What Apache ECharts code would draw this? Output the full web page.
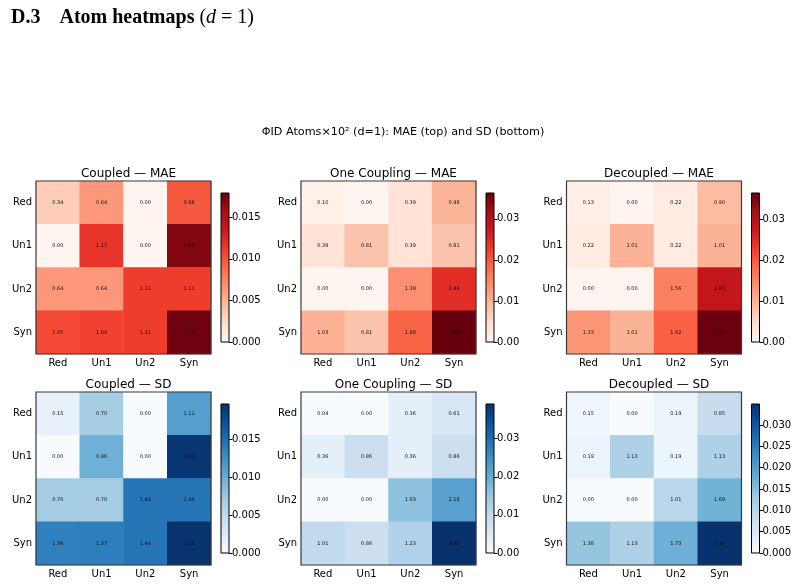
<!DOCTYPE html>
<html>
<head>
<meta charset="utf-8">
<title>Atom heatmaps</title>
<script src="https://cdn.jsdelivr.net/npm/echarts@6/dist/echarts.min.js"></script>
<style>
  html, body { margin: 0; padding: 0; background: #fff; }
  #main { width: 798px; height: 587px; }
</style>
</head>
<body>
<div id="main"></div>
<script>
// categories (rows top->bottom, cols left->right)
var atoms = ['Red', 'Un1', 'Un2', 'Syn'];

// cell values, x10^2, one row per atom
var coupledMAE = [
  [0.34, 0.64, 0.00, 0.98],
  [0.00, 1.17, 0.00, 1.69],
  [0.64, 0.64, 1.11, 1.11],
  [1.05, 1.09, 1.11, 1.76]
];
var oneCouplingMAE = [
  [0.10, 0.00, 0.39, 0.98],
  [0.39, 0.81, 0.39, 0.81],
  [0.00, 0.00, 1.39, 2.44],
  [1.03, 0.81, 1.88, 3.64]
];
var decoupledMAE = [
  [0.13, 0.00, 0.22, 0.90],
  [0.22, 1.01, 0.22, 1.01],
  [0.00, 0.00, 1.56, 2.83],
  [1.33, 1.01, 1.92, 3.61]
];
var coupledSD = [
  [0.15, 0.70, 0.00, 1.11],
  [0.00, 0.96, 0.00, 1.92],
  [0.70, 0.70, 1.44, 1.44],
  [1.36, 1.37, 1.44, 1.94]
];
var oneCouplingSD = [
  [0.04, 0.00, 0.36, 0.61],
  [0.36, 0.86, 0.36, 0.86],
  [0.00, 0.00, 1.63, 2.18],
  [1.01, 0.86, 1.23, 3.89]
];
var decoupledSD = [
  [0.15, 0.00, 0.19, 0.85],
  [0.19, 1.13, 0.19, 1.13],
  [0.00, 0.00, 1.01, 1.69],
  [1.38, 1.13, 1.73, 3.46]
];

var panelTitles = ['Coupled — MAE', 'One Coupling — MAE', 'Decoupled — MAE',
                   'Coupled — SD', 'One Coupling — SD', 'Decoupled — SD'];
var panelData = [coupledMAE, oneCouplingMAE, decoupledMAE, coupledSD, oneCouplingSD, decoupledSD];

// colour scale top of each colorbar (raw units) and its tick labels
var colorMax = [0.0179, 0.0363, 0.0365, 0.0196, 0.0391, 0.0349];
var cbTicks = [
  [0, 0.005, 0.010, 0.015],
  [0, 0.01, 0.02, 0.03],
  [0, 0.01, 0.02, 0.03],
  [0, 0.005, 0.010, 0.015],
  [0, 0.01, 0.02, 0.03],
  [0, 0.005, 0.010, 0.015, 0.020, 0.025, 0.030]
];
var cbDigits = [3, 2, 2, 3, 2, 3];

// matplotlib Reds / Blues
var reds = ['#fff5f0', '#fee0d2', '#fcbba1', '#fc9272', '#fb6a4a', '#ef3b2c', '#cb181d', '#a50f15', '#67000d'];
var blues = ['#f7fbff', '#deebf7', '#c6dbef', '#9ecae1', '#6baed6', '#4292c6', '#2171b5', '#08519c', '#08306b'];

var FONT = 'DejaVu Sans';

function gradient(cols) {
  return {
    type: 'linear', x: 0, y: 1, x2: 0, y2: 0,
    colorStops: cols.map(function (c, i) { return { offset: i / (cols.length - 1), color: c }; })
  };
}

var grid = [], xAxis = [], yAxis = [], series = [], visualMap = [];
var title = [
  {
    text: '{b|D.3}{gap|}{b|Atom heatmaps} ({i|d} = 1)',
    left: 6, top: 3,
    textStyle: {
      fontFamily: 'Liberation Serif', fontSize: 20, fontWeight: 'normal', color: '#000',
      rich: {
        b: { fontFamily: 'Liberation Serif', fontSize: 20, fontWeight: 'bold', color: '#000' },
        gap: { width: 19 },
        i: { fontFamily: 'Liberation Serif', fontSize: 20, fontStyle: 'italic', color: '#000' }
      }
    }
  },
  {
    text: 'ΦID Atoms×10² (d=1): MAE (top) and SD (bottom)',
    left: 398, top: 122, textAlign: 'center',
    textStyle: { fontFamily: FONT, fontSize: 11.2, fontWeight: 'normal', color: '#000' }
  }
];

var offX = [0, 265, 530.5];
var rowTop = [181, 392];
var cbTop = [193, 404];

for (var p = 0; p < 6; p++) {
  var col = p % 3, row = Math.floor(p / 3);
  var cmap = row === 0 ? reds : blues;
  var left = 36 + offX[col];

  // heatmap grid, frame drawn above the cells
  grid.push({ left: left, top: rowTop[row], width: 175, height: 173, show: true, z: 5,
              borderColor: '#3a3a3a', borderWidth: 1.2, backgroundColor: 'transparent' });
  xAxis.push({
    type: 'category', gridIndex: 2 * p, data: atoms, position: 'bottom',
    axisLine: { show: false }, splitLine: { show: false },
    axisTick: { alignWithLabel: true, length: 3.5, lineStyle: { color: '#000' } },
    axisLabel: { fontFamily: FONT, fontSize: 10, color: '#000', margin: 4 }
  });
  yAxis.push({
    type: 'category', gridIndex: 2 * p, data: atoms, inverse: true,
    axisLine: { show: false }, splitLine: { show: false },
    axisTick: { alignWithLabel: true, length: 3.5, lineStyle: { color: '#000' } },
    axisLabel: { fontFamily: FONT, fontSize: 10, color: '#000', margin: 4 }
  });

  // colorbar grid
  grid.push({ left: left + 185, top: cbTop[row], width: 8, height: 149, show: true,
              borderColor: '#000', borderWidth: 1, backgroundColor: gradient(cmap) });
  xAxis.push({ type: 'category', gridIndex: 2 * p + 1, show: false, data: [''] });
  yAxis.push({
    type: 'value', gridIndex: 2 * p + 1, position: 'right', min: 0, max: colorMax[p],
    axisLine: { show: false }, splitLine: { show: false },
    axisTick: { show: true, length: 3.5, customValues: cbTicks[p], lineStyle: { color: '#000' } },
    axisLabel: {
      fontFamily: FONT, fontSize: 10, color: '#000', margin: 3,
      customValues: cbTicks[p],
      formatter: (function (d) { return function (v) { return v.toFixed(d); }; })(cbDigits[p])
    }
  });

  var cells = [];
  panelData[p].forEach(function (r, yi) {
    r.forEach(function (v, xi) { cells.push([xi, yi, v]); });
  });

  series.push({
    type: 'heatmap', xAxisIndex: 2 * p, yAxisIndex: 2 * p, data: cells,
    label: {
      show: true, fontFamily: FONT, fontSize: 5, color: '#111',
      formatter: function (prm) { return prm.data[2].toFixed(2); }
    },
    emphasis: { disabled: true }
  });
  series.push({ type: 'line', xAxisIndex: 2 * p + 1, yAxisIndex: 2 * p + 1, data: [] });

  visualMap.push({
    type: 'continuous', show: false, seriesIndex: 2 * p, dimension: 2,
    min: 0, max: colorMax[p] * 100, inRange: { color: cmap }
  });

  title.push({
    text: panelTitles[p], left: left + 87.5, top: rowTop[row] - 18, textAlign: 'center',
    textStyle: { fontFamily: FONT, fontSize: 12, fontWeight: 'normal', color: '#000' }
  });
}

var chart = echarts.init(document.getElementById('main'), null, { renderer: 'canvas' });
chart.setOption({
  backgroundColor: '#fff',
  animation: false,
  title: title,
  grid: grid,
  xAxis: xAxis,
  yAxis: yAxis,
  visualMap: visualMap,
  series: series
});
</script>
</body>
</html>
